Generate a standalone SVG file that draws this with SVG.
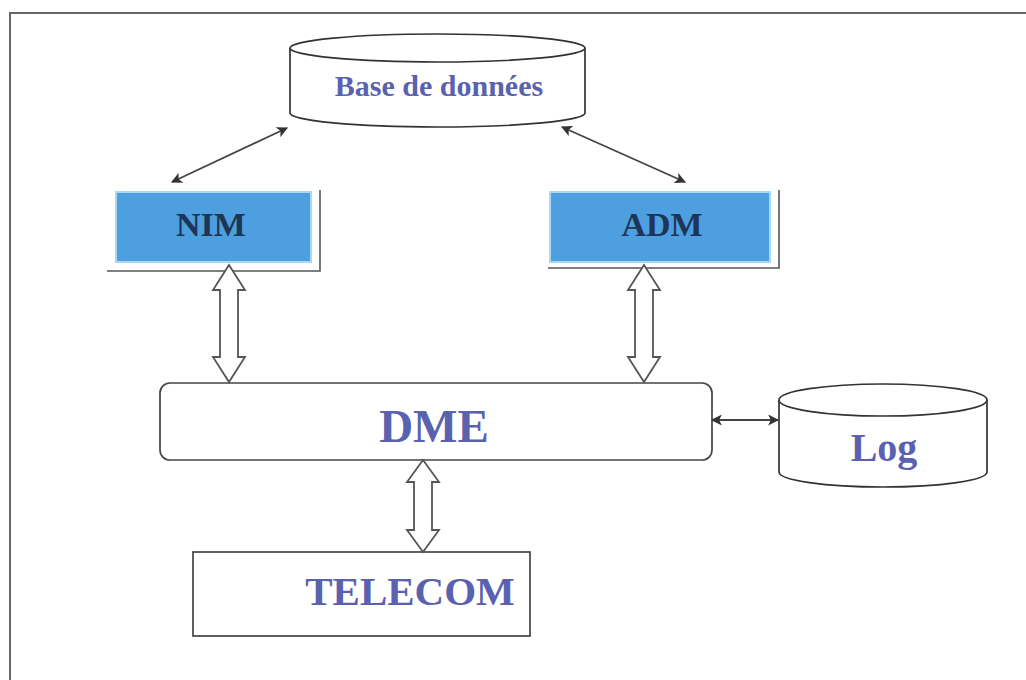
<svg xmlns="http://www.w3.org/2000/svg" width="1026" height="680" viewBox="0 0 1026 680">
<defs>
<marker id="ah" viewBox="0 0 10 10" refX="9" refY="5" markerWidth="12" markerHeight="11" markerUnits="userSpaceOnUse" orient="auto-start-reverse">
<path d="M0,0 L10,5 L0,10 L2.5,5 z" fill="#333"/>
</marker>
<style>
.line{stroke:#444;stroke-width:1.8;fill:none}
.cyl{fill:#fff;stroke:#333;stroke-width:1.7}
.hol{fill:#fff;stroke:#555;stroke-width:1.8}
.mod{fill:#4d9fe0;stroke:#a9d8f5;stroke-width:2}
.shadow{stroke:#555;stroke-width:1.6;fill:none}
.box{fill:#fff;stroke:#444;stroke-width:1.7}
.t{font-family:"Liberation Serif","Times New Roman",serif;font-weight:bold;text-anchor:middle}
.blue{fill:#5a62b0}
.dark{fill:#1e3556}
</style>
</defs>
<rect width="1026" height="680" fill="#fff"/>
<g id="frame">
<path d="M10,680 L10,13 L1026,13" fill="none" stroke="#666" stroke-width="2"/>
</g>
<g id="db">
<path class="cyl" d="M290,48 L290,113 A147.5,14 0 0 0 585,113 L585,48"/>
<ellipse class="cyl" cx="437.5" cy="48" rx="147.5" ry="14"/>
<text class="t blue" x="439" y="96" font-size="30">Base de données</text>
</g>
<g id="nim">
<path class="shadow" d="M320,190 L320,271 L107,271"/>
<rect class="mod" x="116" y="192" width="195" height="70"/>
<text class="t dark" x="211" y="236" font-size="34">NIM</text>
</g>
<g id="adm">
<path class="shadow" d="M779,190 L779,268 L548,268"/>
<rect class="mod" x="550" y="192" width="220" height="70"/>
<text class="t dark" x="662" y="236" font-size="34">ADM</text>
</g>
<g id="dme">
<rect class="box" x="160" y="383" width="552" height="77" rx="10"/>
<text class="t blue" x="434" y="442" font-size="47">DME</text>
</g>
<g id="log">
<path class="cyl" d="M779,400 L779,472 A104,15 0 0 0 987,472 L987,400"/>
<ellipse class="cyl" cx="883" cy="400" rx="104" ry="16"/>
<text class="t blue" x="884" y="461" font-size="40">Log</text>
</g>
<g id="telecom">
<rect class="box" x="193" y="552" width="337" height="84"/>
<text class="t blue" x="410" y="605" font-size="41">TELECOM</text>
</g>
<g id="connectors">
<line class="line" x1="287" y1="128" x2="172" y2="182" marker-start="url(#ah)" marker-end="url(#ah)"/>
<line class="line" x1="562" y1="127" x2="685" y2="182" marker-start="url(#ah)" marker-end="url(#ah)"/>
<line class="line" x1="712" y1="420" x2="778" y2="420" marker-start="url(#ah)" marker-end="url(#ah)"/>
<path class="hol" d="M229,265 L245,290 L238,290 L238,357 L245,357 L229,382 L213,357 L220,357 L220,290 L213,290 Z"/>
<path class="hol" d="M644,265 L660,290 L653,290 L653,357 L660,357 L644,382 L628,357 L635,357 L635,290 L628,290 Z"/>
<path class="hol" d="M423,460 L439,482 L432,482 L432,530 L439,530 L423,552 L407,530 L414,530 L414,482 L407,482 Z"/>
</g>
</svg>
